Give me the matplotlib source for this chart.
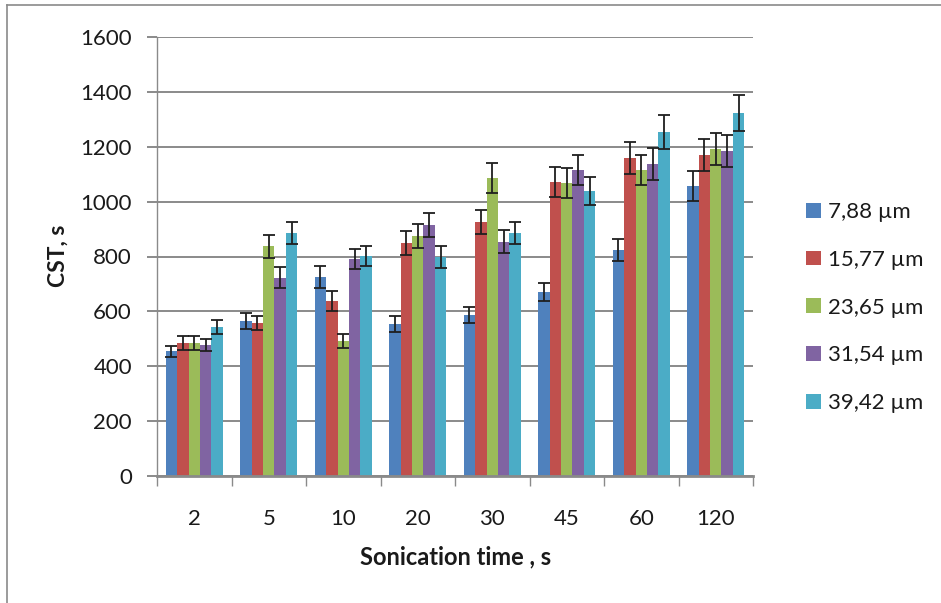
import matplotlib.pyplot as plt
import numpy as np
from matplotlib.lines import Line2D

plt.rcParams['font.family'] = ['Lato', 'DejaVu Sans']

times = ["2", "5", "10", "20", "30", "45", "60", "120"]
sizes = ["7,88 µm", "15,77 µm", "23,65 µm", "31,54 µm", "39,42 µm"]

cst_788 = [455, 565, 725, 554, 587, 671, 824, 1057]
err_788 = [20, 28, 40, 28, 28, 32, 40, 53]
cst_1577 = [485, 558, 638, 849, 926, 1072, 1159, 1170]
err_1577 = [25, 26, 35, 43, 45, 56, 57, 58]
cst_2365 = [485, 838, 492, 875, 1086, 1068, 1115, 1192]
err_2365 = [24, 42, 26, 45, 53, 55, 55, 58]
cst_3154 = [476, 722, 791, 915, 853, 1115, 1137, 1185]
err_3154 = [22, 38, 38, 44, 42, 55, 58, 58]
cst_3942 = [543, 885, 801, 799, 886, 1039, 1254, 1323]
err_3942 = [26, 40, 36, 40, 40, 50, 62, 66]

series = [cst_788, cst_1577, cst_2365, cst_3154, cst_3942]
errors = [err_788, err_1577, err_2365, err_3154, err_3942]
colors = ["#4F81BD", "#C0504D", "#9BBB59", "#8064A2", "#4BACC6"]

grid_col = "#8a8a8a"
text_col = "#1a1a1a"

fig = plt.figure(figsize=(9.41, 6.03), dpi=100)
ax = fig.add_axes([157 / 941, 1 - 476 / 603, (753 - 157) / 941, (476 - 37) / 603])

x = np.arange(len(times))
width = 0.153
for i, (vals, errs, col, lab) in enumerate(zip(series, errors, colors, sizes)):
    pos = x + (i - 2) * width
    ax.bar(pos, vals, width, color=col, label=lab, zorder=2)
    ax.errorbar(pos, vals, yerr=errs, fmt="none", ecolor="#1f1f1f",
                elinewidth=1.3, capsize=4.3, capthick=1.3, zorder=3)

ax.set_xlim(-0.5, len(times) - 0.5)
ax.set_ylim(0, 1600)
ax.set_yticks(range(0, 1601, 200))
ax.yaxis.grid(True, color=grid_col, linewidth=1.4)
ax.set_axisbelow(True)

ax.set_xticks(x)
ax.set_xticklabels(times)
ax.set_xticks(np.arange(-0.5, len(times)), minor=True)
ax.tick_params(axis="x", which="major", length=0, pad=24, labelsize=16, colors=text_col)
ax.tick_params(axis="x", which="minor", length=7, width=1, color=grid_col)
ax.tick_params(axis="y", length=7, width=1.4, color=grid_col, pad=11,
               labelsize=16, labelcolor=text_col)

for side in ["top", "right"]:
    ax.spines[side].set_visible(False)
ax.spines["left"].set_color(grid_col)
ax.spines["left"].set_linewidth(1)
ax.spines["bottom"].set_color(grid_col)
ax.spines["bottom"].set_linewidth(2)

fig.text(58 / 941, 1 - 256 / 603, "CST, s", rotation=90, ha="center", va="center",
         fontsize=16.5, fontweight="bold", color=text_col)
fig.text(456 / 941, 1 - 557 / 603, "Sonication time , s", ha="center", va="center",
         fontsize=17, fontweight="bold", color=text_col)

fig.legend(loc="upper left", bbox_to_anchor=(795 / 941, 1 - 191 / 603), frameon=False,
           fontsize=16, handlelength=0.65, handleheight=0.65, handletextpad=0.35,
           labelspacing=1.25, borderpad=0, labelcolor=text_col)

# outer chart border (top and left edges visible)
fig.add_artist(Line2D([7 / 941, 1], [1 - 5 / 603, 1 - 5 / 603], color=grid_col, lw=1.2))
fig.add_artist(Line2D([7 / 941, 7 / 941], [0, 1 - 5 / 603], color=grid_col, lw=1.2))

fig.savefig("out.png", dpi=100)
